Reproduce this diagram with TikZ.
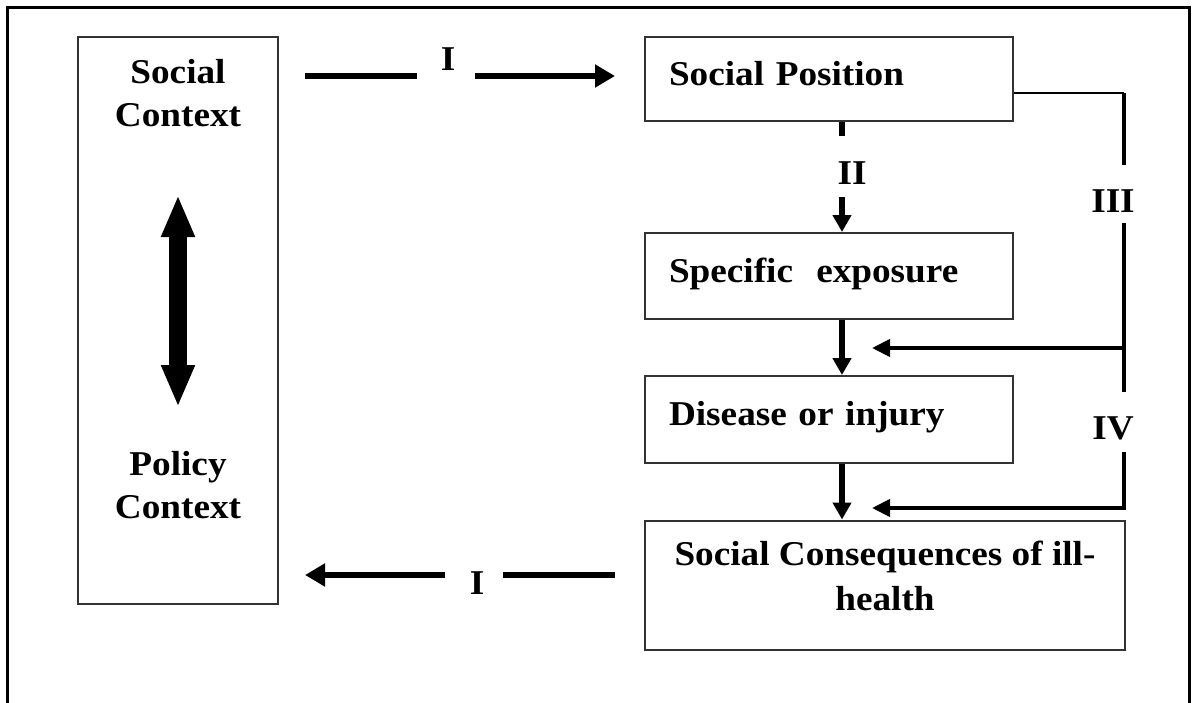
\documentclass[tikz,border=0pt]{standalone}
\usepackage{fontspec}
\setmainfont{Liberation Serif}[FakeStretch=1.07]
\usepackage{tikz}
\usetikzlibrary{positioning,arrows.meta}
\definecolor{blockborder}{HTML}{333333}
\tikzset{
    block/.style={
        rectangle,
        draw=blockborder,
        line width=1pt,
        inner sep=0pt,
        text height=9pt,
        text depth=3pt,
        font=\bfseries\fontsize{17.4}{22.5}\selectfont,
    },
    heading/.style={
        align=center,
        inner sep=0pt,
        font=\bfseries\fontsize{17.4}{21.5}\selectfont,
    },
    numeral/.style={
        inner sep=0pt,
        font=\bfseries\fontsize{17.4}{21}\selectfont,
    },
    bus/.style={
        line width=3.25pt,
        >={Triangle[length=10pt,width=11pt]},
    },
    stem/.style={
        line width=2.75pt,
        >={Triangle[length=8.5pt,width=9pt]},
    },
    rail/.style={
        line width=2pt,
        >={Triangle[length=9pt,width=8.5pt]},
    },
    stub/.style={
        line width=1.35pt,
    },
    twoway/.style={
        line width=9pt,
        {Triangle[length=21pt,width=15.5pt]}-{Triangle[length=21pt,width=15.5pt]},
    },
}

\begin{document}
\begin{tikzpicture}[x=0.5pt,y=-0.5pt]
        \useasboundingbox (0,0) rectangle (1195,702);
        \draw[line width=1.5pt] (7,720) -- (7,7) -- (1189,7) -- (1189,720);

        % context column
        \node[block, minimum width=100pt, minimum height=283.5pt] (ctx) at (178,320.5) {};
        \node[heading] (soc) at (178,93.5) {Social\\Context};
        \node[heading] (pol) at (178,485.5) {Policy\\Context};
        \coordinate (up) at (178,195);
        \coordinate (down) at (178,407);
        \draw[twoway] (up) -- (down);

        % pathway chain
        \node[block, minimum width=184pt, minimum height=42pt, text width=160pt, align=left] (pos) at (829,79) {Social Position};
        \node[block, minimum width=184pt, minimum height=43pt, text width=160pt, align=left] (exp) at (829,276) {Specific\ \ exposure};
        \node[block, minimum width=184pt, minimum height=43.5pt, text width=160pt, align=left] (dis) at (829,419.5) {Disease or injury};
        \node[block, minimum width=240pt, minimum height=64.5pt, align=center, text height=28pt, text depth=3pt] (cons) at (885,585) {Social Consequences of ill-\\health};

        \coordinate (col) at (842,0);
        \coordinate (iitop) at (842,136);
        \coordinate (iibot) at (842,197);
        \node[numeral] (ii) at (852,173.5) {II};
        \draw[stem] (pos.south -| col) -- (iitop);
        \draw[stem, ->] (iibot) -- (exp.north -| col);
        \draw[stem, ->] (exp.south -| col) -- (dis.north -| col);
        \draw[stem, ->] (dis.south -| col) -- (cons.north -| col);

        % side route III / IV
        \coordinate (turn) at (1124,93);
        \coordinate (iiitop) at (1124,165);
        \coordinate (iiibot) at (1124,223);
        \coordinate (ivtop) at (1124,392);
        \coordinate (fork) at (1124,348);
        \coordinate (forkend) at (872,348);
        \coordinate (ivbot) at (1124,452);
        \coordinate (corner) at (1124,508);
        \coordinate (cornerend) at (872,508);
        \node[numeral] (iii) at (1113,201.5) {III};
        \node[numeral] (iv) at (1113,428) {IV};
        \draw[stub] (pos.east |- turn) -- (turn);
        \draw[rail] (turn) -- (iiitop);
        \draw[rail] (iiibot) -- (ivtop);
        \draw[rail, ->] (fork) -- (forkend);
        \draw[rail, ->] (ivbot) -- (corner) -- (cornerend);

        % route I, both ways
        \coordinate (f1) at (305,76);
        \coordinate (f2) at (417,76);
        \coordinate (f3) at (475,76);
        \coordinate (f4) at (615,76);
        \coordinate (b1) at (305,575);
        \coordinate (b2) at (445,575);
        \coordinate (b3) at (503,575);
        \coordinate (b4) at (615,575);
        \node[numeral] (fwd) at (448,59) {I};
        \node[numeral] (back) at (477,583.5) {I};
        \draw[bus] (f1) -- (f2);
        \draw[bus, ->] (f3) -- (f4);
        \draw[bus, <-] (b1) -- (b2);
        \draw[bus] (b3) -- (b4);
\end{tikzpicture}
\end{document}
